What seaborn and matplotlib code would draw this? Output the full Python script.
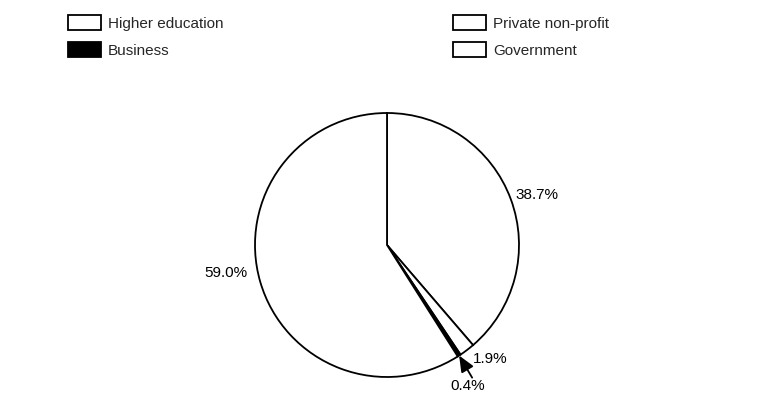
import matplotlib
matplotlib.use("Agg")
import matplotlib.pyplot as plt
from matplotlib.patches import Patch
import numpy as np
import seaborn as sns

# Share of funding by sector (percent), drawn clockwise from 12 o'clock
sectors = ["Higher education", "Private non-profit", "Business", "Government"]
shares = [38.7, 1.9, 0.4, 59.0]
fills = ["white", "white", "black", "white"]
legend_columns = [["Higher education", "Business"],
                  ["Private non-profit", "Government"]]

sns.set_theme(style="white")
plt.rcParams["font.family"] = ["Liberation Sans", "DejaVu Sans"]

fig = plt.figure(figsize=(7.59, 3.94), dpi=100)
fig.patch.set_facecolor("white")

# Pie axes: centre and radius laid out in figure pixels
W, H = 759, 394
cx, cy, r = 387, 245, 132
ax = fig.add_axes([(cx - r) / W, (H - cy - r) / H, 2 * r / W, 2 * r / H])
ax.set_aspect("equal")

wedges, _ = ax.pie(
    shares,
    colors=fills,
    startangle=90,
    counterclock=False,
    radius=1.0,
    wedgeprops=dict(edgecolor="black", linewidth=1.3),
)
ax.set_xlim(-1, 1)
ax.set_ylim(-1, 1)
ax.axis("off")

labels = [f"{v:.1f}%" for v in shares]
# label anchor points (axes data units) and alignment per slice
label_pos = {
    "Higher education": ((0.97, 0.38), "left"),
    "Private non-profit": ((0.65, -0.86), "left"),
    "Government": ((-1.06, -0.21), "right"),
}
for name, lab in zip(sectors, labels):
    if name in label_pos:
        (x, y), ha = label_pos[name]
        ax.text(x, y, lab, ha=ha, va="center", fontsize=11, color="black",
                clip_on=False)

# Business slice is too thin to label in place: point at it with an arrow
i = sectors.index("Business")
start = 90 - 360 * sum(shares[:i]) / 100
end = start - 360 * shares[i] / 100
mid = np.deg2rad((start + end) / 2)
tip = (np.cos(mid), np.sin(mid))
ax.annotate(
    "", xy=tip, xytext=(0.645, -1.005),
    arrowprops=dict(arrowstyle="-|>,head_length=0.7,head_width=0.3",
                    color="black", lw=1.3, mutation_scale=14,
                    shrinkA=0, shrinkB=0),
    annotation_clip=False,
)
ax.text(0.61, -1.015, labels[i], ha="center", va="top", fontsize=11,
        color="black", clip_on=False)

# Legend: two columns, each anchored at its own left edge
col_x = [68, 453]
for x0, names in zip(col_x, legend_columns):
    handles = [Patch(facecolor=fills[sectors.index(n)], edgecolor="black",
                     linewidth=1.3, label=n) for n in names]
    fig.legend(
        handles=handles, loc="upper left",
        bbox_to_anchor=(x0 / W, 1 - 15 / H), bbox_transform=fig.transFigure,
        frameon=False, fontsize=11, handlelength=2.16, handleheight=1.15,
        handletextpad=0.46, labelspacing=0.72,
        borderpad=0, borderaxespad=0,
    )

fig.savefig("out.png", dpi=100, facecolor="white")
